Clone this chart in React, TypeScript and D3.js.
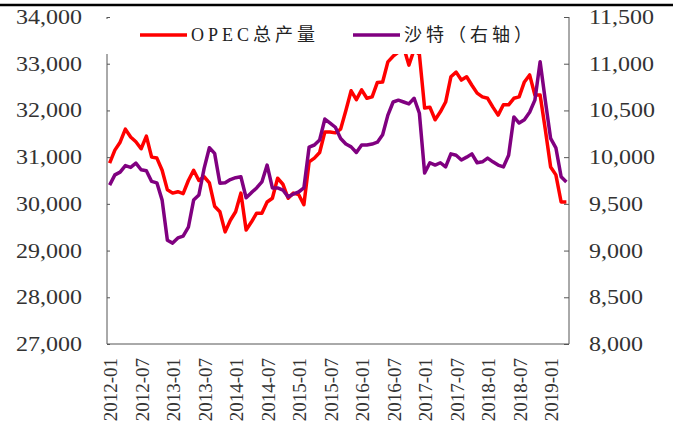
import { useEffect, useRef } from "react";
import * as d3 from "d3";

// monthly categories 2012-01 .. 2019-04
const months: string[] = d3
  .timeMonths(new Date(2012, 0, 1), new Date(2019, 4, 1))
  .map(d3.timeFormat("%Y-%m"));

const tickLabels = [
  "2012-01", "2012-07", "2013-01", "2013-07", "2014-01", "2014-07", "2015-01", "2015-07",
  "2016-01", "2016-07", "2017-01", "2017-07", "2018-01", "2018-07", "2019-01",
];

// OPEC total production (left axis)
const opec = [
  30870, 31150, 31320, 31600, 31430, 31330, 31180, 31450, 31000, 30980, 30720, 30300,
  30230, 30260, 30220, 30500, 30720, 30500, 30580, 30450, 29950, 29830, 29400, 29650,
  29830, 30230, 29440, 29610, 29800, 29800, 30040, 30120, 30550, 30420, 30120, 30230,
  30200, 29980, 30900, 30980, 31100, 31540, 31540, 31520, 31600, 32000, 32420, 32230,
  32440, 32260, 32290, 32600, 32610, 33040, 33160, 33250, 33350, 32970, 33300, 33200,
  32050, 32070, 31800, 31970, 32180, 32720, 32820, 32650, 32720, 32540, 32370, 32290,
  32260, 32070, 31900, 32120, 32120, 32260, 32290, 32610, 32760, 32330, 32330, 31580,
  30790, 30620, 30040, 30040,
];

// Saudi production (right axis)
const saudi = [
  9700, 9810, 9840, 9910, 9890, 9935, 9865, 9855, 9740, 9725, 9540, 9110,
  9080, 9135, 9155, 9250, 9540, 9595, 9880, 10100, 10040, 9720, 9725, 9760,
  9780, 9790, 9565, 9620, 9670, 9735, 9915, 9670, 9670, 9648, 9575, 9605,
  9627, 9670, 10108, 10130, 10184, 10408, 10365, 10320, 10200, 10140, 10110, 10050,
  10130, 10130, 10140, 10160, 10240, 10450, 10590, 10610, 10590, 10570, 10630, 10470,
  9830, 9940, 9915, 9940, 9895, 10035, 10020, 9970, 10000, 10035, 9940, 9950,
  9990, 9950, 9915, 9895, 10020, 10430, 10365, 10400, 10480, 10610, 11020, 10600,
  10200, 10100, 9790, 9735,
];

const leftTicks = [27000, 28000, 29000, 30000, 31000, 32000, 33000, 34000];
const rightTicks = [8000, 8500, 9000, 9500, 10000, 10500, 11000, 11500];

export default function App() {
  const ref = useRef<SVGSVGElement | null>(null);

  useEffect(() => {
    if (!ref.current) return;
    const W = 673;
    const H = 425;
    const m = { top: 17, right: 104, bottom: 81, left: 107 };
    const x0 = m.left;
    const x1 = W - m.right;
    const y0 = H - m.bottom;
    const y1 = m.top;
    const font = "'Liberation Serif', 'Times New Roman', serif";
    const axisColor = "#555";
    const textColor = "#333";

    const svg = d3.select(ref.current);
    svg.selectAll("*").remove();
    svg.attr("width", W).attr("height", H);

    svg.append("rect").attr("width", W).attr("height", H).attr("fill", "#fff");

    // top rule
    svg
      .append("line")
      .attr("x1", 0)
      .attr("x2", W)
      .attr("y1", 5)
      .attr("y2", 5)
      .attr("stroke", "#000")
      .attr("stroke-width", 2.5);

    const x = d3.scalePoint<string>().domain(months).range([x0, x1]).padding(0.5);
    const yL = d3.scaleLinear().domain([27000, 34000]).range([y0, y1]);
    const yR = d3.scaleLinear().domain([8000, 11500]).range([y0, y1]);

    const lineL = d3
      .line<number>()
      .x((_, i) => x(months[i]) as number)
      .y((d) => yL(d));
    const lineR = d3
      .line<number>()
      .x((_, i) => x(months[i]) as number)
      .y((d) => yR(d));

    svg
      .append("path")
      .datum(opec)
      .attr("fill", "none")
      .attr("stroke", "#ff0000")
      .attr("stroke-width", 3.5)
      .attr("stroke-linejoin", "round")
      .attr("d", lineL);

    svg
      .append("path")
      .datum(saudi)
      .attr("fill", "none")
      .attr("stroke", "#800080")
      .attr("stroke-width", 3.5)
      .attr("stroke-linejoin", "round")
      .attr("d", lineR);

    // left axis
    const gL = svg
      .append("g")
      .attr("transform", `translate(${x0},0)`)
      .call(d3.axisRight(yL).tickValues(leftTicks).tickSize(3).tickFormat(() => ""));
    gL.select(".domain").attr("stroke", axisColor).attr("d", `M0,${y1}V${y0}`);
    gL.selectAll(".tick line").attr("stroke", axisColor);

    svg
      .append("g")
      .selectAll("text")
      .data(leftTicks)
      .join("text")
      .attr("transform", (d) => `translate(82,${yL(d)}) scale(1.2,1)`)
      .attr("dy", "0.35em")
      .attr("text-anchor", "end")
      .attr("font-family", font)
      .attr("font-size", 20)
      .attr("fill", textColor)
      .text((d) => d3.format(",")(d));

    // right axis
    const gR = svg
      .append("g")
      .attr("transform", `translate(${x1},0)`)
      .call(d3.axisLeft(yR).tickValues(rightTicks).tickSize(5).tickFormat(() => ""));
    gR.select(".domain").attr("stroke", axisColor).attr("d", `M0,${y1}V${y0}`);
    gR.selectAll(".tick line").attr("stroke", axisColor);

    svg
      .append("g")
      .selectAll("text")
      .data(rightTicks)
      .join("text")
      .attr("transform", (d) => `translate(589,${yR(d)}) scale(1.2,1)`)
      .attr("dy", "0.35em")
      .attr("text-anchor", "start")
      .attr("font-family", font)
      .attr("font-size", 20)
      .attr("fill", textColor)
      .text((d) => d3.format(",")(d));

    // bottom axis
    svg
      .append("line")
      .attr("x1", x0)
      .attr("x2", x1)
      .attr("y1", y0)
      .attr("y2", y0)
      .attr("stroke", axisColor);

    svg
      .append("g")
      .selectAll("text")
      .data(tickLabels)
      .join("text")
      .attr(
        "transform",
        (d) => `translate(${(x(d) as number) + 1},${y0 + 14}) rotate(-90)`
      )
      .attr("dy", "0.35em")
      .attr("text-anchor", "end")
      .attr("font-family", font)
      .attr("font-size", 19)
      .attr("fill", textColor)
      .text((d) => d);

    // legend (white box over the top of the plot)
    const lg = svg.append("g");
    lg.append("rect")
      .attr("x", x0 - 3)
      .attr("y", 19)
      .attr("width", 461)
      .attr("height", 35)
      .attr("fill", "#fff");

    const items = [
      { label: "OPEC总产量", color: "#ff0000", x: 140 },
      { label: "沙特（右轴）", color: "#800080", x: 353 },
    ];
    items.forEach((it) => {
      lg.append("line")
        .attr("x1", it.x)
        .attr("x2", it.x + 47)
        .attr("y1", 35)
        .attr("y2", 35)
        .attr("stroke", it.color)
        .attr("stroke-width", 3.5);
      lg.append("text")
        .attr("x", it.x + 51)
        .attr("y", 35)
        .attr("dy", "0.35em")
        .attr("font-family", "'Liberation Serif', 'Noto Sans CJK SC', serif")
        .attr("font-size", 18)
        .attr("letter-spacing", 4)
        .attr("fill", "#222")
        .text(it.label);
    });
  }, []);

  return (
    <svg
      ref={ref}
      style={{ position: "absolute", left: 0, top: 0, display: "block" }}
    />
  );
}
